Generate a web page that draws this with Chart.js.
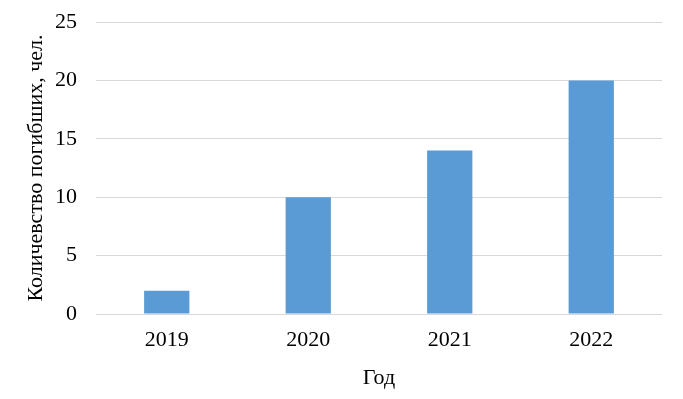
<!DOCTYPE html>
<html><head><meta charset="utf-8">
<script src="https://cdn.jsdelivr.net/npm/chart.js@4/dist/chart.umd.min.js"></script>
<style>html,body{margin:0;padding:0;background:#fff}#w{width:683px;height:399px}</style>
</head><body><div id="w"><canvas id="c"></canvas></div>
<script>
const categories = ["2019", "2020", "2021", "2022"];
const deaths = [2, 10, 14, 20];
const yTicks = [0, 5, 10, 15, 20, 25];
const yTitle = "Количевство погибших, чел.";
const xTitle = "Год";

const font = {family: "'Liberation Serif', 'Times New Roman', serif", size: 22};
new Chart(document.getElementById('c'), {
  type: 'bar',
  data: {labels: categories, datasets: [{data: deaths, backgroundColor: '#5B9BD5', categoryPercentage: 1, barPercentage: 0.32}]},
  options: {
    responsive: true, maintainAspectRatio: false, animation: false,
    layout: {padding: {top: 22, right: 21, left: 0, bottom: 0}},
    plugins: {legend: {display: false}, tooltip: {enabled: false}},
    scales: {
      x: {
        grid: {display: false}, border: {display: false},
        ticks: {color: '#000', font: font, padding: 5},
        title: {display: true, text: xTitle, color: '#000', font: font, padding: {top: 4, bottom: 8}},
        afterFit: s => { s.height = 85; }
      },
      y: {
        min: 0, max: 25,
        afterBuildTicks: s => { s.ticks = yTicks.map(v => ({value: v})); },
        grid: {color: '#d9d9d9', lineWidth: 1, drawTicks: false},
        border: {display: false},
        ticks: {color: '#000', font: font, padding: 19},
        title: {display: true, text: yTitle, color: '#000', font: font, padding: {top: 23, bottom: 4}},
        afterFit: s => { s.width = 96; s.paddingTop = 0; s.paddingBottom = 0; }
      }
    }
  }
});
</script></body></html>
